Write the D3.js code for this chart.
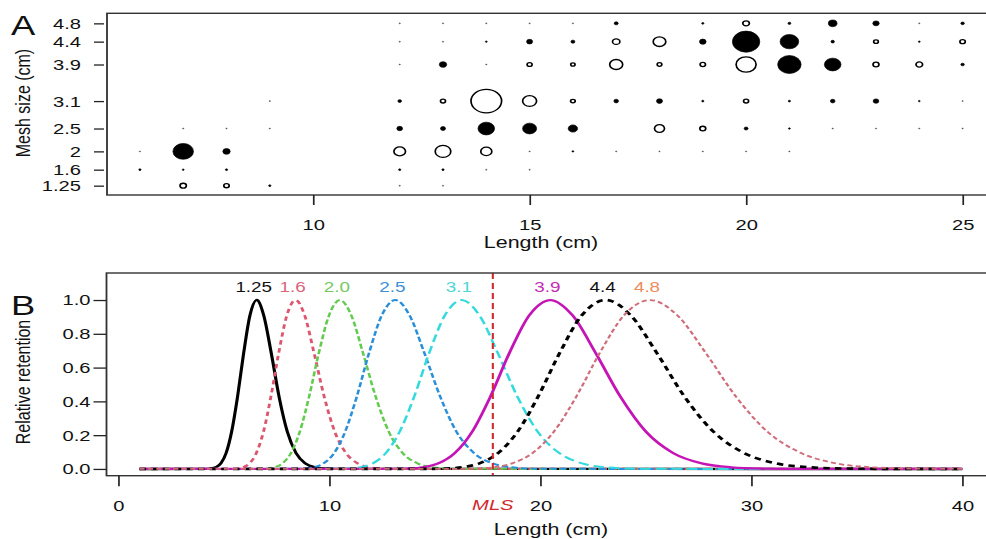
<!DOCTYPE html>
<html>
<head>
<meta charset="utf-8">
<script src="https://cdn.jsdelivr.net/npm/d3@7"></script>
<style>
  body { margin: 0; background: #fff; }
  svg { display: block; }
  text { font-family: "Liberation Sans", Arial, sans-serif; fill: #111; }
</style>
</head>
<body>
<svg id="chart" width="986" height="539"></svg>
<script>
// ---- panel A: catch by length and mesh size ----
var lengthsA = [6, 7, 8, 9, 12, 13, 14, 15, 16, 17, 18, 19, 20, 21, 22, 23, 24, 25];
var meshSizes = [1.25, 1.6, 2, 2.5, 3.1, 3.9, 4.4, 4.8];
var meshTicks = ["1.25", "1.6", "2", "2.5", "3.1", "3.9", "4.4", "4.8"];
var lengthTicksA = [10, 15, 20, 25];

// one row per mesh size, one value per length class
var catch125 = [0, 24, 17, 3, 1, 1, 0, 0, 0, 0, 0, 0, 0, 0, 0, 0, 0, 0];
var catch16  = [3, 2, 3, 0, 3, 3, 1, 1, 0, 0, 0, 0, 0, 0, 0, 0, 0, 0];
var catch20  = [1, 251, 32, 0, 80, 144, 72, 1, 2, 1, 1, 1, 1, 1, 0, 0, 0, 0];
var catch25  = [0, 1, 1, 1, 19, 15, 163, 116, 52, 0, 59, 21, 9, 2, 1, 1, 1, 1];
var catch31  = [0, 0, 0, 1, 8, 15, 555, 116, 13, 13, 21, 3, 15, 3, 13, 19, 2, 1];
var catch39  = [0, 0, 0, 0, 1, 32, 1, 15, 11, 100, 13, 17, 237, 324, 163, 21, 26, 7];
var catch44  = [0, 0, 0, 0, 1, 1, 2, 21, 9, 32, 94, 26, 445, 205, 7, 13, 2, 17];
var catch48  = [0, 0, 0, 0, 1, 1, 1, 1, 1, 9, 0, 3, 26, 5, 44, 24, 1, 7];

// 1 = open symbol, 0 = filled symbol
var open125 = [0, 1, 1, 0, 0, 0, 0, 0, 0, 0, 0, 0, 0, 0, 0, 0, 0, 0];
var open16  = [0, 0, 0, 0, 0, 0, 0, 0, 0, 0, 0, 0, 0, 0, 0, 0, 0, 0];
var open20  = [0, 0, 0, 0, 1, 1, 1, 0, 0, 0, 0, 0, 0, 0, 0, 0, 0, 0];
var open25  = [0, 0, 0, 0, 0, 0, 0, 0, 0, 0, 1, 1, 0, 0, 0, 0, 0, 0];
var open31  = [0, 0, 0, 0, 0, 1, 1, 1, 1, 0, 0, 0, 1, 0, 0, 0, 0, 0];
var open39  = [0, 0, 0, 0, 0, 0, 0, 1, 1, 1, 1, 1, 1, 0, 0, 1, 1, 0];
var open44  = [0, 0, 0, 0, 0, 0, 0, 0, 0, 1, 1, 0, 0, 0, 0, 1, 0, 1];
var open48  = [0, 0, 0, 0, 0, 0, 0, 0, 0, 0, 0, 0, 1, 0, 0, 0, 0, 0];

var catchRows = [catch125, catch16, catch20, catch25, catch31, catch39, catch44, catch48];
var openRows = [open125, open16, open20, open25, open31, open39, open44, open48];

// ---- panel B: relative retention curves ----
var curveLabels = ["1.25", "1.6", "2.0", "2.5", "3.1", "3.9", "4.4", "4.8"];
var retentionLevels = [0.0005, 0.0024, 0.0097, 0.033, 0.094, 0.22, 0.427, 0.685, 0.91, 1,
                       0.91, 0.685, 0.427, 0.22, 0.094, 0.033, 0.0097, 0.0024, 0.0005];
// length (cm) where each curve reaches the retention levels above
var len125 = [4.19, 4.40, 4.62, 4.86, 5.11, 5.37, 5.65, 5.94, 6.24, 6.56, 6.89, 7.25, 7.62, 8.01, 8.42, 8.86, 9.31, 9.79, 10.29];
var len16  = [5.36, 5.63, 5.92, 6.22, 6.54, 6.88, 7.23, 7.60, 7.99, 8.40, 8.83, 9.28, 9.76, 10.26, 10.79, 11.34, 11.92, 12.53, 13.17];
var len20  = [6.70, 7.04, 7.40, 7.78, 8.18, 8.60, 9.04, 9.50, 9.99, 10.50, 11.04, 11.60, 12.20, 12.82, 13.48, 14.18, 14.90, 15.67, 16.46];
var len25  = [8.38, 8.80, 9.26, 9.73, 10.23, 10.75, 11.30, 11.88, 12.49, 13.13, 13.80, 14.51, 15.26, 16.03, 16.86, 17.73, 18.63, 19.59, 20.59];
var len31  = [10.39, 10.91, 11.48, 12.06, 12.68, 13.33, 14.02, 14.73, 15.48, 16.28, 17.11, 17.99, 18.92, 19.88, 20.90, 21.98, 23.10, 24.29, 25.53];
var len39  = [13.07, 13.72, 14.44, 15.18, 15.95, 16.77, 17.63, 18.53, 19.48, 20.48, 21.52, 22.63, 23.80, 25.01, 26.30, 27.65, 29.06, 30.56, 32.11];
var len44  = [14.74, 15.48, 16.29, 17.12, 18.00, 18.92, 19.89, 20.91, 21.97, 23.10, 24.28, 25.53, 26.84, 28.21, 29.66, 31.19, 32.78, 34.47, 36.22];
var len48  = [16.08, 16.88, 17.77, 18.67, 19.63, 20.64, 21.70, 22.81, 23.97, 25.20, 26.49, 27.85, 29.28, 30.77, 32.36, 34.02, 35.76, 37.60, 39.51];
var curveLengths = [len125, len16, len20, len25, len31, len39, len44, len48];
var lengthRangeB = [1, 40];
var lengthTicksB = [0, 10, 20, 30, 40];
var retentionTicks = [0, 0.2, 0.4, 0.6, 0.8, 1.0];
var mlsLength = 17.75;

// styles
var curveColors = ["#000000", "#DC5670", "#62CB4F", "#2A8FDA", "#33DADD", "#C514B5", "#000000", "#D06C7A"];
var labelColors = ["#111111", "#D9647C", "#74C962", "#3D8FD6", "#4DD6DA", "#C22CB4", "#111111", "#EC8C5C"];
var curveDash = [null, "4.5,3.5", "5,2.5", "5,2.5", "8,4", null, "5,4", "4,2.5"];
var curveWidth = [2.4, 2.2, 2, 2, 2, 2.3, 2.6, 1.8];

// the picture is stretched horizontally
var SX = 1.3;
function ix(p) { return p / SX; }

var svg = d3.select("#chart");
var root = svg.append("g").attr("transform", "scale(" + SX + ",1)");

// ---------- panel A ----------
var xA = d3.scaleLinear().domain([5.24, 25.76]).range([ix(107), ix(995.5)]);
var yA = d3.scaleLinear().domain([1.046, 5.02]).range([195, 13.3]);
var rA = d3.scaleSqrt().domain([0, 555]).range([0, 11.77]);

var gA = root.append("g");

var cells = [];
meshSizes.forEach(function (m, i) {
  lengthsA.forEach(function (l, j) {
    if (catchRows[i][j] > 0) cells.push({ mesh: m, length: l, n: catchRows[i][j], open: openRows[i][j] });
  });
});

gA.selectAll("circle.cell")
  .data(cells)
  .enter()
  .append("circle")
  .attr("class", "cell")
  .attr("cx", function (d) { return xA(d.length); })
  .attr("cy", function (d) { return yA(d.mesh); })
  .attr("r", function (d) { return rA(d.n); })
  .attr("fill", function (d) { return d.open ? "#fff" : "#000"; })
  .attr("stroke", function (d) { return d.n <= 1 ? "#777" : "#000"; })
  .attr("stroke-width", function (d) { return d.open ? 1.3 : 0.6; });

gA.append("rect")
  .attr("x", xA.range()[0]).attr("y", yA.range()[1])
  .attr("width", xA.range()[1] - xA.range()[0])
  .attr("height", yA.range()[0] - yA.range()[1])
  .attr("fill", "none").attr("stroke", "#333").attr("stroke-width", 1.4);

var axA = gA.append("g")
  .attr("transform", "translate(0," + yA.range()[0] + ")")
  .call(d3.axisBottom(xA).tickValues(lengthTicksA).tickSize(10).tickPadding(13.5));
axA.select(".domain").remove();

var ayA = gA.append("g")
  .attr("transform", "translate(" + ix(104) + ",0)")
  .call(d3.axisLeft(yA).tickValues(meshSizes).tickSize(ix(10))
    .tickPadding(ix(13)).tickFormat(function (d, i) { return meshTicks[i]; }));
ayA.select(".domain").remove();

gA.append("text").attr("x", ix(541)).attr("y", 248).attr("text-anchor", "middle")
  .attr("font-size", 16.5).text("Length (cm)");
gA.append("text").attr("transform", "translate(" + ix(30) + ",103) rotate(-90)")
  .attr("text-anchor", "middle").attr("font-size", 16).text("Mesh size (cm)");
gA.append("text").attr("x", ix(11)).attr("y", 35).attr("font-size", 28).text("A");

// ---------- panel B ----------
var xB = d3.scaleLinear().domain([-0.56, 41.56]).range([ix(106.5), ix(995.2)]);
var yB = d3.scaleLinear().domain([-0.04, 1.16]).range([475.7, 273]);

var gB = root.append("g");

var line = d3.line()
  .x(function (d) { return xB(d[0]); })
  .y(function (d) { return yB(d[1]); })
  .curve(d3.curveMonotoneX);

curveLengths.forEach(function (lens, i) {
  var pts = [[lengthRangeB[0], 0]]
    .concat(lens.map(function (l, j) { return [l, retentionLevels[j]]; }))
    .concat([[lengthRangeB[1], 0]]);
  gB.append("path")
    .attr("d", line(pts))
    .attr("fill", "none")
    .attr("stroke", curveColors[i])
    .attr("stroke-width", curveWidth[i])
    .attr("stroke-dasharray", curveDash[i]);
});

curveLengths.forEach(function (lens, i) {
  gB.append("text")
    .attr("x", xB(lens[9]) - ix(3))
    .attr("y", yB(1) - 8)
    .attr("text-anchor", "middle")
    .attr("font-size", 14.5)
    .style("fill", labelColors[i])
    .text(curveLabels[i]);
});

gB.append("line")
  .attr("x1", xB(mlsLength)).attr("x2", xB(mlsLength))
  .attr("y1", yB.range()[1]).attr("y2", yB.range()[0])
  .attr("stroke", "#D0282C").attr("stroke-width", 1.6).attr("stroke-dasharray", "6,4");

gB.append("rect")
  .attr("x", xB.range()[0]).attr("y", yB.range()[1])
  .attr("width", xB.range()[1] - xB.range()[0])
  .attr("height", yB.range()[0] - yB.range()[1])
  .attr("fill", "none").attr("stroke", "#333").attr("stroke-width", 1.4);

var axB = gB.append("g")
  .attr("transform", "translate(0," + yB.range()[0] + ")")
  .call(d3.axisBottom(xB).tickValues(lengthTicksB).tickSize(10.5).tickPadding(13.5));
axB.select(".domain").remove();

var ayB = gB.append("g")
  .attr("transform", "translate(" + ix(106) + ",0)")
  .call(d3.axisLeft(yB).tickValues(retentionTicks).tickSize(ix(12.5))
    .tickPadding(ix(3)).tickFormat(d3.format(".1f")));
ayB.select(".domain").remove();

gB.append("text").attr("x", xB(mlsLength)).attr("y", 510.5).attr("text-anchor", "middle")
  .attr("font-size", 15.5).attr("font-style", "italic").style("fill", "#D0282C").text("MLS");

gB.append("text").attr("x", ix(551)).attr("y", 535).attr("text-anchor", "middle")
  .attr("font-size", 16.5).text("Length (cm)");
gB.append("text").attr("transform", "translate(" + ix(30) + ",382) rotate(-90)")
  .attr("text-anchor", "middle").attr("font-size", 16).text("Relative retention");
gB.append("text").attr("x", ix(11)).attr("y", 315).attr("font-size", 28).text("B");

// axis text and tick styling
root.selectAll(".tick text")
  .attr("font-size", 15.5)
  .attr("font-family", "Liberation Sans, Arial, sans-serif")
  .style("fill", "#111");
root.selectAll(".tick line").attr("stroke", "#222").attr("stroke-width", 1.3);
</script>
</body>
</html>
